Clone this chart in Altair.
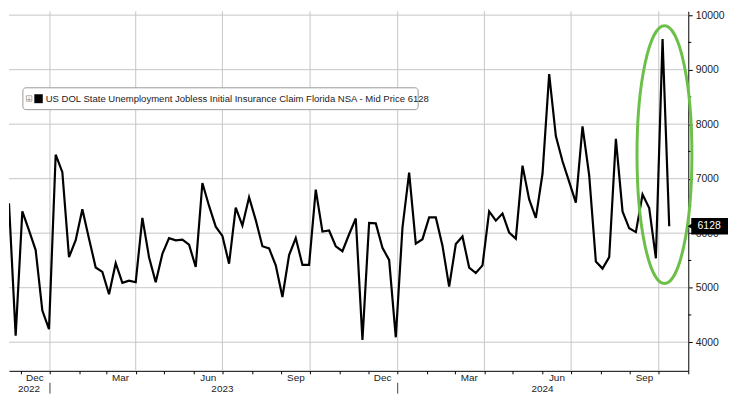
import altair as alt
import pandas as pd

# ---------------- data ----------------
first_week = "2022-11-19"
claims = [
    6550, 4120, 6400, 6050, 5690, 4580, 4240, 7440, 7120, 5560,
    5870, 6440, 5900, 5370, 5290, 4880, 5450, 5090, 5130, 5100,
    6280, 5560, 5100, 5620, 5910, 5870, 5880, 5790, 5380, 6920,
    6500, 6120, 5950, 5440, 6470, 6140, 6660, 6240, 5760, 5720,
    5410, 4830, 5600, 5910, 5420, 5420, 6800, 6030, 6050, 5760,
    5670, 5980, 6270, 4040, 6190, 6180, 5730, 5510, 4090, 6100,
    7110, 5810, 5890, 6290, 6290, 5770, 5020, 5800, 5940, 5370,
    5270, 5410, 6400, 6230, 6360, 6010, 5900, 7240, 6620, 6280,
    7090, 8920, 7780, 7320, 6940, 6560, 7960, 7060, 5480, 5350,
    5560, 7730, 6400, 6090, 6020, 6710, 6460, 5540, 9560, 6128,
]
series_name = "US DOL State Unemployment Jobless Initial Insurance Claim Florida NSA - Mid Price"
x_start, x_end = "2022-11-19", "2024-11-01"
y_min, y_max = 3475, 10070
y_ticks = [4000, 5000, 6000, 7000, 8000, 9000, 10000]
y_minor_ticks = [4500, 5500, 6500, 7500, 8500, 9500]
quarter_starts = ["2023-01-01", "2023-04-01", "2023-07-01", "2023-10-01",
                  "2024-01-01", "2024-04-01", "2024-07-01", "2024-10-01"]
year_labels = ["2022", "2023", "2024"]
year_label_dates = ["2022-12-10", "2023-07-01", "2024-06-01"]
year_breaks = ["2023-01-01", "2024-01-01"]
highlight_date, highlight_value = "2024-10-07", 7440

# ---------------- layout ----------------
W, H = 684, 362
FONT = "Liberation Sans, Arial, sans-serif"
GRID_COLOR = "#c6c6c6"

dates = pd.date_range(first_week, periods=len(claims), freq="7D")
df = pd.DataFrame({"date": dates.strftime("%Y-%m-%d"), "claims": claims})
last_value = claims[-1]


def dt(s):
    t = pd.Timestamp(s)
    return alt.DateTime(year=t.year, month=t.month, date=t.day, utc=True)


x_scale = alt.Scale(type="utc", domain=[dt(x_start), dt(x_end)])
y_scale = alt.Scale(domain=[y_min, y_max], nice=False, zero=False)

x_axis = alt.Axis(
    title=None,
    orient="bottom",
    tickCount={"interval": "month", "step": 1},
    labelExpr="utcmonth(datum.value) % 3 == 2 ? utcFormat(datum.value, '%b') : ''",
    labelOffset=14,
    labelAlign="center",
    labelBaseline="middle",
    labelPadding=4,
    labelFlush=False,
    labelOverlap=False,
    labelBound=False,
    labelFont=FONT,
    labelFontSize=10,
    labelColor="#222",
    tickSize=3,
    tickColor="#000",
    domainColor="#000",
    grid=False,
)

y_axis = alt.Axis(
    title=None,
    orient="right",
    values=y_ticks,
    format="d",
    labelFont=FONT,
    labelFontSize=10.5,
    labelColor="#222",
    labelPadding=3,
    tickSize=4,
    tickColor="#000",
    domainColor="#000",
    grid=False,
)

# light gridlines: horizontal at labelled values, vertical at quarter starts
hgrid = alt.Chart(pd.DataFrame({"claims": y_ticks})).mark_rule(
    color=GRID_COLOR, strokeWidth=1, opacity=1
).encode(y=alt.Y("claims:Q", scale=y_scale, axis=y_axis))

vgrid = alt.Chart(pd.DataFrame({"date": quarter_starts})).mark_rule(
    color=GRID_COLOR, strokeWidth=1, opacity=1
).encode(x=alt.X("date:T", scale=x_scale, axis=x_axis))

# minor ticks on the right axis
minor = alt.Chart(pd.DataFrame({"claims": y_minor_ticks})).mark_rule(color="#000", strokeWidth=1).encode(
    y=alt.Y("claims:Q", title=None),
    x=alt.value(W),
    x2=alt.value(W + 3),
)

line = alt.Chart(df).mark_line(color="#000", strokeWidth=2.2, clip=True).encode(
    x=alt.X("date:T", title=None),
    y=alt.Y("claims:Q", title=None),
)

# year labels and separators below the month row
years = alt.Chart(pd.DataFrame({"date": year_label_dates, "label": year_labels})).mark_text(
    font=FONT, fontSize=10, color="#222", baseline="middle", align="center"
).encode(
    x=alt.X("date:T", title=None),
    y=alt.value(H + 18),
    text="label:N",
)
seps = alt.Chart(pd.DataFrame({"date": year_breaks})).mark_rule(color="#444", strokeWidth=1).encode(
    x=alt.X("date:T", title=None),
    y=alt.value(H + 12),
    y2=alt.value(H + 23),
)

# highlight ellipse
ellipse_path = (
    "M0,-1 C0.1176,-1 0.213,-0.5523 0.213,0 C0.213,0.5523 0.1176,1 0,1 "
    "C-0.1176,1 -0.213,0.5523 -0.213,0 C-0.213,-0.5523 -0.1176,-1 0,-1 Z"
)
ellipse = alt.Chart(pd.DataFrame({"date": [highlight_date], "claims": [highlight_value]})).mark_point(
    shape=ellipse_path, filled=False, stroke="#6CC04A", strokeWidth=3, size=67400, opacity=1
).encode(
    x=alt.X("date:T", title=None),
    y=alt.Y("claims:Q", title=None),
)

# last value tag on the right axis
tag_df = pd.DataFrame({"v": [last_value]})
tag_box = alt.Chart(tag_df).transform_calculate(
    lo="datum.v - 150", hi="datum.v + 150"
).mark_rect(color="#000").encode(
    x=alt.value(W + 3),
    x2=alt.value(W + 40),
    y=alt.Y("lo:Q", title=None),
    y2="hi:Q",
)
tag_arrow = alt.Chart(tag_df).mark_point(shape="triangle-left", filled=True, color="#000", size=40, opacity=1).encode(
    x=alt.value(W + 2),
    y=alt.Y("v:Q", title=None),
)
tag_text = alt.Chart(tag_df).mark_text(
    font=FONT, fontSize=10.5, color="#fff", align="center", baseline="middle"
).encode(
    x=alt.value(W + 21),
    y=alt.Y("v:Q", title=None),
    text=alt.Text("v:Q", format="d"),
)

# legend box
one = pd.DataFrame({"a": [0]})
leg_box = alt.Chart(one).mark_rect(fill="#fff", stroke="#9a9a9a", strokeWidth=1, cornerRadius=3).encode(
    x=alt.value(14), x2=alt.value(412), y=alt.value(77), y2=alt.value(99)
)
leg_icon = alt.Chart(one).mark_rect(fill="#fff", stroke="#999", strokeWidth=0.8).encode(
    x=alt.value(17.5), x2=alt.value(23), y=alt.value(85), y2=alt.value(90.5)
)
leg_plus = alt.Chart(pd.DataFrame({"t": ["+"]})).mark_text(
    font="DejaVu Sans", fontSize=6, color="#777", align="center", baseline="middle"
).encode(x=alt.value(20.25), y=alt.value(87.9), text="t:N")
leg_swatch = alt.Chart(one).mark_rect(fill="#000").encode(
    x=alt.value(25.5), x2=alt.value(34), y=alt.value(83.5), y2=alt.value(92.5)
)
leg_text = alt.Chart(pd.DataFrame({"t": [f"{series_name} {last_value}"]})).mark_text(
    font=FONT, fontSize=9.6, color="#222", align="left", baseline="middle"
).encode(x=alt.value(37), y=alt.value(88.5), text="t:N")

chart = (
    alt.layer(hgrid, vgrid, minor, line, years, seps, ellipse, tag_box, tag_arrow, tag_text,
              leg_box, leg_icon, leg_plus, leg_swatch, leg_text)
    .properties(width=W, height=H, background="#ffffff", padding=0)
    .configure_view(strokeWidth=0)
)

chart.save("out.html", embed_options={"renderer": "svg", "actions": False})
